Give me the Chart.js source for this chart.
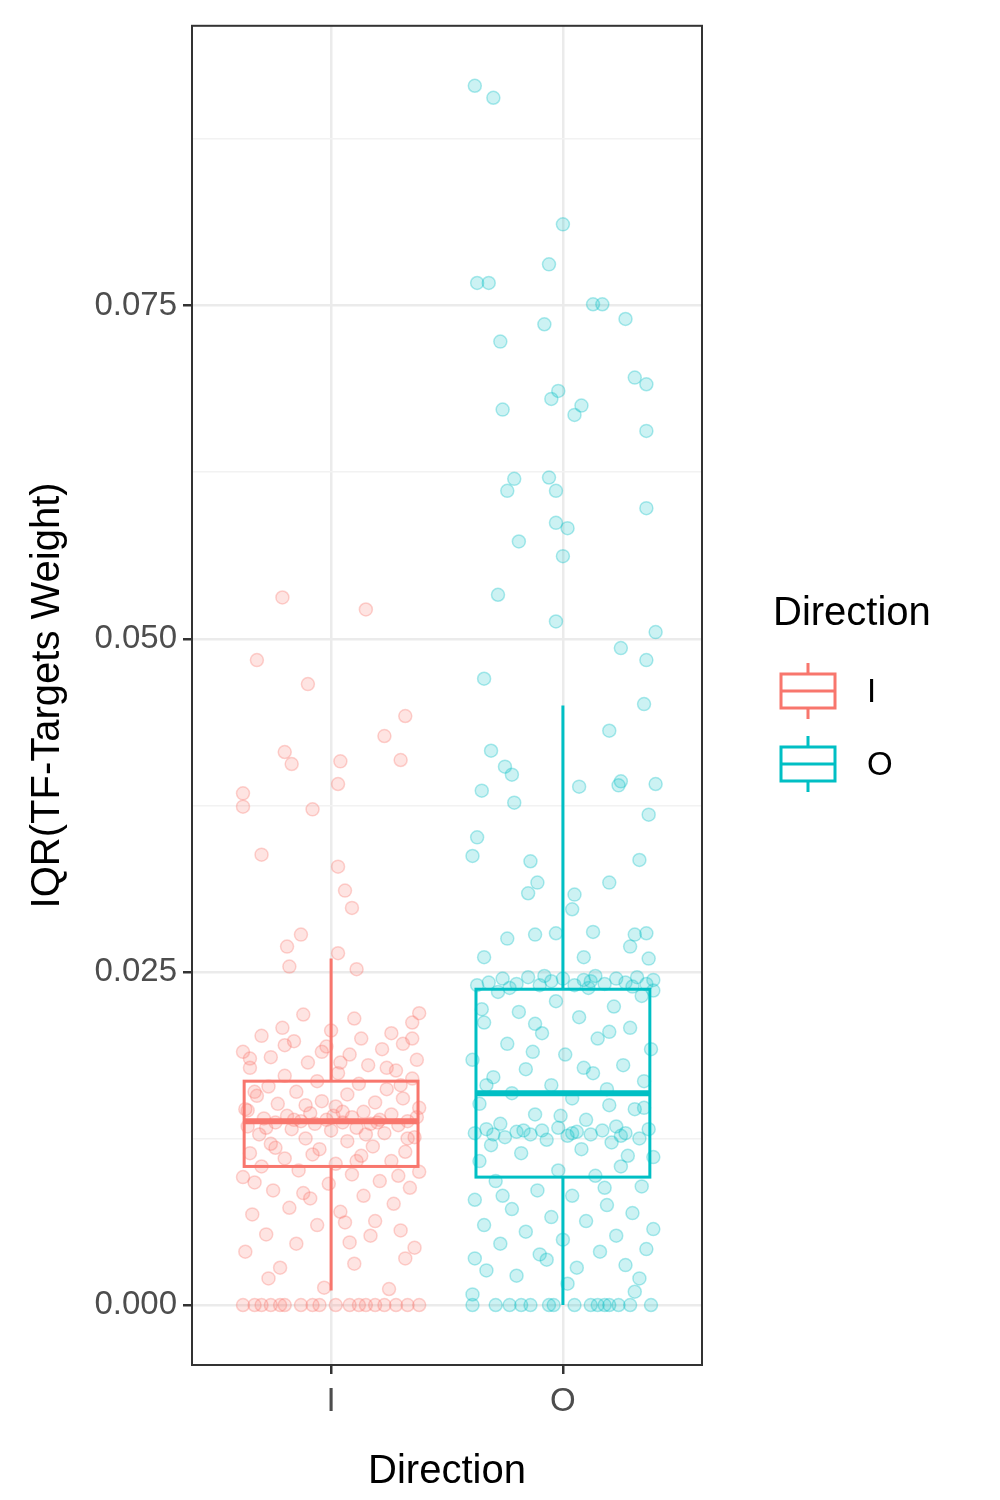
<!DOCTYPE html>
<html>
<head>
<meta charset="utf-8">
<script src="https://cdn.jsdelivr.net/npm/chart.js@4"></script>
<style>
  body { margin: 0; background: #fff; }
  #wrap { width: 1000px; height: 1500px; }
</style>
</head>
<body>
<div id="wrap"><canvas id="myChart" width="1000" height="1500"></canvas></div>
<script>
// --- data ---
const categories = ['I', 'O'];
const colors = ['#F8766D', '#00BFC4'];

// boxplot stats: [lower whisker, Q1, median, Q3, upper whisker]
const boxI = [0.0011, 0.0104, 0.0138, 0.0168, 0.0260];
const boxO = [0.0000, 0.0096, 0.0159, 0.0237, 0.0450];

// jittered points as [x offset from category, value]
const pointsI = [
  [-0.21,0.0531],[0.15,0.0522],[-0.32,0.0484],[-0.10,0.0466],[0.32,0.0442],[0.23,0.0427],
  [-0.20,0.0415],[-0.17,0.0406],[0.04,0.0408],[0.30,0.0409],[0.03,0.0391],[-0.38,0.0384],
  [-0.38,0.0374],[-0.08,0.0372],[-0.30,0.0338],[0.03,0.0329],[0.06,0.0311],[0.09,0.0298],
  [-0.13,0.0278],[-0.19,0.0269],[0.03,0.0264],[0.11,0.0252],[-0.18,0.0254],
  [-0.38,0],[-0.33,0],[-0.30,0],[-0.26,0],[-0.22,0],[-0.20,0],[-0.13,0],[-0.08,0],[-0.05,0],
  [0.02,0],[0.08,0],[0.12,0],[0.15,0],[0.19,0],[0.23,0],[0.28,0],[0.33,0],[0.38,0],
  [-0.03,0.0013],[0.25,0.0012],[-0.22,0.0028],[0.10,0.0031],[-0.37,0.0040],[0.36,0.0043],
  [-0.15,0.0046],[0.08,0.0047],[-0.28,0.0053],[0.30,0.0056],[-0.06,0.0060],[0.19,0.0063],
  [-0.34,0.0068],[0.04,0.0070],[-0.18,0.0073],[0.27,0.0076],[-0.09,0.0080],[0.14,0.0082],
  [-0.25,0.0086],[0.34,0.0088],[-0.01,0.0091],[0.21,0.0093],[-0.38,0.0096],[0.09,0.0098],
  [-0.14,0.0101],[0.38,0.0100],[-0.30,0.0104],[0.02,0.0106],[0.26,0.0108],[-0.20,0.0110],
  [0.13,0.0112],[-0.35,0.0114],[0.32,0.0115],[-0.05,0.0117],[0.18,0.0119],[-0.26,0.0121],
  [0.07,0.0123],[-0.11,0.0125],[0.36,0.0126],[-0.31,0.0128],[0.23,0.0129],[0.00,0.0131],
  [-0.17,0.0132],[0.11,0.0133],[-0.36,0.0134],[0.29,0.0135],[-0.07,0.0136],[0.17,0.0136],
  [-0.24,0.0137],[0.05,0.0137],[-0.13,0.0138],[0.33,0.0138],[0.21,0.0139],[-0.02,0.0139],
  [-0.29,0.0140],[0.09,0.0141],[-0.19,0.0142],[0.26,0.0143],[-0.09,0.0144],[0.14,0.0145],
  [-0.37,0.0147],[0.38,0.0148],[0.02,0.0149],[-0.23,0.0151],[0.19,0.0152],[-0.04,0.0153],
  [0.31,0.0155],[-0.32,0.0157],[0.07,0.0158],[-0.15,0.0160],[0.24,0.0162],[-0.27,0.0164],
  [0.12,0.0166],[-0.06,0.0168],[0.35,0.0170],[-0.20,0.0172],[0.03,0.0174],[0.28,0.0176],
  [-0.35,0.0178],[0.16,0.0180],[-0.10,0.0182],[0.37,0.0184],[-0.26,0.0186],[0.08,0.0188],
  [-0.38,0.0190],[0.22,0.0192],[-0.02,0.0194],[0.31,0.0196],[-0.16,0.0198],[0.13,0.0200],
  [-0.30,0.0202],[0.26,0.0204],[0.00,0.0206],[-0.21,0.0208],[0.35,0.0212],[0.10,0.0215],
  [-0.12,0.0218],[0.38,0.0219],[-0.33,0.0160],[0.33,0.0125],[-0.08,0.0113],[0.05,0.0145],
  [-0.16,0.0139],[0.01,0.0142],[0.20,0.0137],[-0.28,0.0133],[0.37,0.0141],[-0.11,0.0150],
  [0.15,0.0128],[-0.35,0.0185],[0.24,0.0178],[-0.04,0.0190],[0.30,0.0165],[-0.24,0.0118],
  [0.11,0.0108],[-0.33,0.0092],[0.29,0.0097],[-0.12,0.0084],[0.06,0.0062],[0.32,0.0035],
  [-0.27,0.0020],[0.17,0.0052],[-0.36,0.0146],[0.35,0.0200],[-0.20,0.0195],[0.04,0.0182]
];
const pointsO = [
  [-0.38,0.0915],[-0.30,0.0906],[0.00,0.0811],[-0.06,0.0781],[-0.37,0.0767],[-0.32,0.0767],
  [0.13,0.0751],[0.17,0.0751],[0.27,0.0740],[-0.08,0.0736],[-0.27,0.0723],[0.31,0.0696],
  [0.36,0.0691],[-0.02,0.0686],[-0.05,0.0680],[0.08,0.0675],[0.05,0.0668],[-0.26,0.0672],
  [0.36,0.0656],[-0.21,0.0620],[-0.06,0.0621],[-0.24,0.0611],[-0.03,0.0611],[0.36,0.0598],
  [-0.03,0.0587],[0.02,0.0583],[-0.19,0.0573],[0.00,0.0562],[-0.28,0.0533],[-0.03,0.0513],
  [0.40,0.0505],[0.25,0.0493],[0.36,0.0484],[-0.34,0.0470],[0.35,0.0451],[0.20,0.0431],
  [-0.31,0.0416],[-0.25,0.0404],[-0.22,0.0398],[0.25,0.0393],[0.24,0.0390],[0.07,0.0389],
  [0.40,0.0391],[-0.35,0.0386],[-0.21,0.0377],[0.37,0.0368],[-0.37,0.0351],[-0.39,0.0337],
  [-0.14,0.0333],[0.33,0.0334],[0.20,0.0317],[-0.11,0.0317],[0.05,0.0308],[-0.15,0.0309],
  [0.04,0.0297],[-0.12,0.0278],[0.13,0.0280],[0.31,0.0278],[-0.24,0.0275],[-0.03,0.0279],
  [0.36,0.0279],[0.29,0.0269],[-0.34,0.0261],[0.09,0.0261],[0.37,0.0260],
  [-0.39,0],[-0.29,0],[-0.23,0],[-0.18,0],[-0.14,0],[-0.06,0],[-0.04,0],[0.05,0],[0.12,0],
  [0.15,0],[0.18,0],[0.20,0],[0.24,0],[0.29,0],[0.38,0],[-0.39,0.0008],[0.31,0.0010],
  [-0.33,0.0026],[-0.20,0.0022],[0.06,0.0028],[0.27,0.0030],[-0.38,0.0035],[-0.10,0.0038],
  [0.16,0.0040],[0.36,0.0042],[-0.27,0.0046],[0.00,0.0049],[0.23,0.0052],[-0.16,0.0055],
  [0.39,0.0057],[-0.34,0.0060],[0.10,0.0063],[-0.05,0.0066],[0.30,0.0069],[-0.22,0.0072],
  [0.19,0.0075],[-0.38,0.0079],[0.04,0.0082],[-0.11,0.0086],[0.34,0.0089],[-0.29,0.0093],
  [0.14,0.0097],[-0.02,0.0101],[0.25,0.0104],[-0.36,0.0108],[0.39,0.0111],[-0.18,0.0114],
  [0.08,0.0117],[-0.31,0.0120],[0.21,0.0122],[-0.07,0.0124],[0.33,0.0125],[-0.25,0.0126],
  [0.02,0.0127],[-0.14,0.0128],[0.12,0.0128],[-0.38,0.0129],[0.27,0.0129],[-0.20,0.0130],
  [0.06,0.0130],[-0.09,0.0131],[0.17,0.0131],[-0.33,0.0132],[0.37,0.0132],[-0.02,0.0133],
  [0.23,0.0134],[-0.27,0.0136],[0.10,0.0139],[-0.12,0.0143],[0.31,0.0147],[-0.36,0.0151],
  [0.04,0.0155],[-0.22,0.0159],[0.19,0.0162],[-0.05,0.0165],[0.35,0.0168],[-0.30,0.0171],
  [0.13,0.0174],[-0.16,0.0177],[0.26,0.0180],[-0.39,0.0184],[0.01,0.0188],[0.38,0.0192],
  [-0.24,0.0196],[0.15,0.0200],[-0.09,0.0204],[0.29,0.0208],[-0.34,0.0212],[0.07,0.0216],
  [-0.19,0.0220],[0.22,0.0224],[-0.03,0.0228],[0.34,0.0232],[-0.28,0.0235],[0.11,0.0238],
  [-0.37,0.0240],[-0.32,0.0242],[-0.26,0.0245],[-0.20,0.0241],[-0.15,0.0246],[-0.10,0.0240],
  [-0.05,0.0243],[0.00,0.0245],[0.05,0.0240],[0.09,0.0244],[0.14,0.0247],[0.18,0.0241],
  [0.23,0.0245],[0.27,0.0242],[0.32,0.0246],[0.36,0.0241],[0.39,0.0244],[-0.35,0.0222],
  [0.39,0.0236],[-0.13,0.0190],[0.20,0.0150],[-0.01,0.0142],[0.28,0.0112],
  [-0.30,0.0128],[-0.17,0.0131],[0.04,0.0129],[0.25,0.0127],[-0.23,0.0238],[0.12,0.0243],
  [0.30,0.0239],[-0.08,0.0247],[0.20,0.0205],[-0.12,0.0211],[0.35,0.0148],[-0.33,0.0165],
  [0.09,0.0178],[-0.26,0.0082],[0.18,0.0088],[-0.07,0.0034],[0.33,0.0020],[0.02,0.0016]
];

// y axis: breaks every 0.025, minor lines halfway
const yMin = -0.0045;
const yMax = 0.096;

function toXY(points, center) {
  return points.map(p => ({ x: center + p[0], y: p[1] }));
}

function hexA(hex, a) {
  const n = parseInt(hex.slice(1), 16);
  return `rgba(${n >> 16},${(n >> 8) & 255},${n & 255},${a})`;
}

const boxPlugin = {
  id: 'boxes',
  afterDatasetsDraw(chart) {
    const ctx = chart.ctx;
    const xs = chart.scales.x, ys = chart.scales.y;
    [boxI, boxO].forEach((b, i) => {
      const c = i + 1;
      const l = xs.getPixelForValue(c - 0.375), r = xs.getPixelForValue(c + 0.375);
      const m = xs.getPixelForValue(c);
      const py = b.map(v => ys.getPixelForValue(v));
      ctx.save();
      ctx.strokeStyle = colors[i];
      ctx.lineWidth = 3;
      ctx.beginPath();
      ctx.moveTo(m, py[0]); ctx.lineTo(m, py[1]);
      ctx.moveTo(m, py[3]); ctx.lineTo(m, py[4]);
      ctx.stroke();
      ctx.strokeRect(l, py[3], r - l, py[1] - py[3]);
      ctx.lineWidth = 6;
      ctx.beginPath();
      ctx.moveTo(l, py[2]); ctx.lineTo(r, py[2]);
      ctx.stroke();
      ctx.restore();
    });
    // panel border
    const a = chart.chartArea;
    ctx.save();
    ctx.strokeStyle = '#333333';
    ctx.lineWidth = 2;
    ctx.strokeRect(a.left, a.top, a.right - a.left, a.bottom - a.top);
    ctx.restore();
    // legend
    ctx.save();
    ctx.fillStyle = '#000';
    ctx.font = '40px "Liberation Sans", Arial, sans-serif';
    ctx.textBaseline = 'middle';
    ctx.fillText('Direction', 773, 614);
    categories.forEach((name, i) => {
      const cy = 691 + i * 73;
      ctx.strokeStyle = colors[i];
      ctx.lineWidth = 3;
      ctx.strokeRect(781, cy - 17, 54, 34);
      ctx.beginPath();
      ctx.moveTo(808, cy - 28); ctx.lineTo(808, cy - 17);
      ctx.moveTo(808, cy + 17); ctx.lineTo(808, cy + 28);
      ctx.moveTo(781, cy); ctx.lineTo(835, cy);
      ctx.stroke();
      ctx.fillStyle = '#000';
      ctx.font = '33px "Liberation Sans", Arial, sans-serif';
      ctx.fillText(name, 867, cy + 2);
    });
    ctx.restore();
  }
};

const isMajor = v => Math.abs(v / 0.025 - Math.round(v / 0.025)) < 1e-6;

const ctx = document.getElementById('myChart').getContext('2d');
new Chart(ctx, {
  type: 'scatter',
  data: {
    datasets: [pointsI, pointsO].map((pts, i) => ({
      label: categories[i],
      data: toXY(pts, i + 1),
      backgroundColor: hexA(colors[i], 0.2),
      borderColor: hexA(colors[i], 0.32),
      borderWidth: 1.5,
      pointRadius: 6.5
    }))
  },
  options: {
    responsive: false,
    animation: false,
    layout: { padding: { top: 22, right: 298, left: 20, bottom: 0 } },
    plugins: { legend: { display: false }, tooltip: { enabled: false } },
    scales: {
      x: {
        type: 'linear', min: 0.4, max: 2.6,
        afterBuildTicks: s => { s.ticks = [{ value: 1 }, { value: 2 }]; },
        afterFit: s => { s.height = 135; },
        grid: { color: '#ebebeb', lineWidth: 2.5, tickColor: '#333333', tickLength: 9, drawOnChartArea: true },
        border: { display: false },
        ticks: {
          callback: v => categories[v - 1] || '',
          color: '#4d4d4d', font: { size: 33, family: '"Liberation Sans", Arial' }, padding: 8
        },
        title: { display: true, text: 'Direction', color: '#000', font: { size: 40, family: '"Liberation Sans", Arial' }, padding: { top: 0 } }
      },
      y: {
        min: yMin, max: yMax,
        afterBuildTicks: s => {
          const t = [];
          for (let k = 0; k <= 7; k++) t.push({ value: k * 0.0125 });
          s.ticks = t;
        },
        afterFit: s => { s.width = 172; },
        grid: {
          color: c => isMajor(c.tick.value) ? '#ebebeb' : '#f2f2f2',
          lineWidth: c => isMajor(c.tick.value) ? 2.5 : 1.5,
          tickColor: c => isMajor(c.tick.value) ? '#333333' : 'rgba(0,0,0,0)',
          tickLength: 9
        },
        border: { display: false },
        ticks: {
          callback: v => isMajor(v) ? v.toFixed(3) : '',
          color: '#4d4d4d', font: { size: 33, family: '"Liberation Sans", Arial' }, padding: 6
        },
        title: { display: true, text: 'IQR(TF-Targets Weight)', color: '#000', font: { size: 40, family: '"Liberation Sans", Arial' }, padding: { bottom: 4 } }
      }
    }
  },
  plugins: [boxPlugin]
});
</script>
</body>
</html>
